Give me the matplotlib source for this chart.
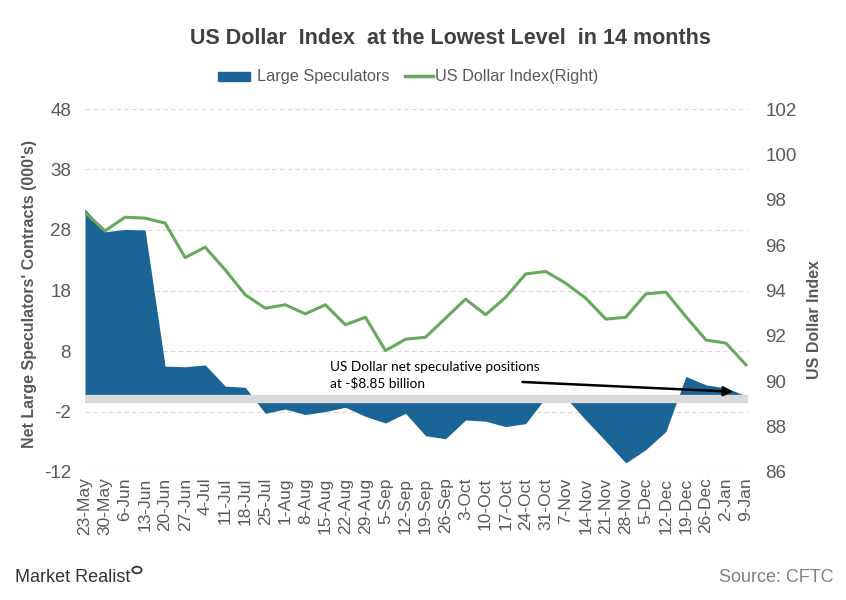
import matplotlib
matplotlib.use("Agg")
import matplotlib.pyplot as plt
from matplotlib.patches import Rectangle, Circle
from matplotlib.lines import Line2D
import numpy as np

dates = ["23-May", "30-May", "6-Jun", "13-Jun", "20-Jun", "27-Jun", "4-Jul", "11-Jul",
         "18-Jul", "25-Jul", "1-Aug", "8-Aug", "15-Aug", "22-Aug", "29-Aug", "5-Sep",
         "12-Sep", "19-Sep", "26-Sep", "3-Oct", "10-Oct", "17-Oct", "24-Oct", "31-Oct",
         "7-Nov", "14-Nov", "21-Nov", "28-Nov", "5-Dec", "12-Dec", "19-Dec", "26-Dec",
         "2-Jan", "9-Jan"]

large_speculators = [31.5, 27.7, 28.1, 28.0, 5.5, 5.4, 5.7, 2.2,
                     2.0, -2.3, -1.6, -2.5, -2.0, -1.3, -2.8, -3.9,
                     -2.3, -6.0, -6.5, -3.4, -3.6, -4.5, -4.0, 0.3,
                     0.3, -3.4, -6.9, -10.5, -8.3, -5.3, 3.8, 2.4,
                     1.9, 0.6]

usd_index = [97.44, 96.63, 97.23, 97.19, 96.97, 95.45, 95.91, 94.91,
             93.81, 93.22, 93.37, 92.97, 93.37, 92.49, 92.82, 91.35,
             91.85, 91.94, 92.78, 93.62, 92.93, 93.70, 94.73, 94.84,
             94.32, 93.66, 92.74, 92.82, 93.85, 93.93, 92.85, 91.82,
             91.68, 90.72]

left_ticks = [-12, -2, 8, 18, 28, 38, 48]
right_ticks = [86, 88, 90, 92, 94, 96, 98, 100, 102]

BLUE = "#1b6496"
GREEN = "#66a85c"
TXT = "#595959"
FONT = "Liberation Sans"

plt.rcParams["font.family"] = [FONT, "DejaVu Sans"]
plt.rcParams["axes.unicode_minus"] = False

fig = plt.figure(figsize=(8.46, 6.0), dpi=100)
fig.patch.set_facecolor("white")
ax = fig.add_axes([85 / 846, 1 - 472 / 600, (748 - 85) / 846, (472 - 109) / 600])
x = np.arange(len(dates))

ax.fill_between(x, 0, large_speculators, color=BLUE, lw=0, zorder=2)
ax.axhline(0, color="#d9d9d9", lw=6, zorder=3)
ax.set_ylim(-12, 48)
ax.set_yticks(left_ticks)
ax.set_xlim(0, 33.1)
ax.set_xticks(x)
ax.set_xticklabels(dates, rotation=90, fontsize=12.5, color=TXT)
ax.tick_params(axis="both", length=0, pad=4)
ax.tick_params(axis="y", labelsize=13.5, labelcolor=TXT, pad=10)
ax.grid(axis="y", color="#d9d9d9", linestyle=(0, (4, 3)), lw=0.8, zorder=0)
for s in ax.spines.values():
    s.set_visible(False)
ax.set_ylabel("Net Large Speculators' Contracts (000's)", fontsize=11.5,
              fontweight="bold", color=TXT)
ax.yaxis.set_label_coords(-0.073, 0.49)

ax2 = ax.twinx()
ax2.plot(x, usd_index, color=GREEN, lw=2.2, zorder=4)
ax2.set_ylim(86, 102)
ax2.set_yticks(right_ticks)
ax2.tick_params(axis="y", length=0, labelsize=13.5, labelcolor=TXT, pad=12.5)
for s in ax2.spines.values():
    s.set_visible(False)
ax2.set_ylabel("US Dollar Index", fontsize=11.5, fontweight="bold", color=TXT)
ax2.yaxis.set_label_coords(1.089, 0.42)

ax.text(12.25, 6.3, "US Dollar net speculative positions\nat -$8.85 billion",
        fontsize=9.8, family=["Lato", "DejaVu Sans"], color="black", va="top",
        ha="left", linespacing=1.35, zorder=6)
ax.annotate("", xy=(32.5, 1.25), xytext=(21.7, 2.9),
            arrowprops=dict(arrowstyle="-|>", color="black", lw=1.8,
                            mutation_scale=14), zorder=6)

fig.text(450 / 846, 1 - 38 / 600, "US Dollar  Index  at the Lowest Level  in 14 months",
         ha="center", va="center", fontsize=15.5, fontweight="bold", color="#404040")

# legend
fig.patches.append(Rectangle((218 / 846, 1 - 81 / 600), 32 / 846, 9 / 600,
                             transform=fig.transFigure, color=BLUE))
fig.text(257 / 846, 1 - 76 / 600, "Large Speculators", fontsize=11.7, color=TXT,
         va="center", ha="left")
fig.lines.append(Line2D([405 / 846, 433 / 846], [1 - 76 / 600, 1 - 76 / 600],
                        transform=fig.transFigure, color=GREEN, lw=2.5))
fig.text(435 / 846, 1 - 76 / 600, "US Dollar Index(Right)", fontsize=11.7, color=TXT,
         va="center", ha="left")

# footer
fig.text(15 / 846, 1 - 578 / 600, "Market Realist", fontsize=13, color="#333333",
         va="center", ha="left", family=["Liberation Sans Narrow", "Liberation Sans"])
fig.patches.append(Circle((137 / 846, 1 - 570 / 600), 0.0055, transform=fig.transFigure,
                          fill=False, ec="#333333", lw=1.3))
fig.text(833 / 846, 1 - 578 / 600, "Source: CFTC", fontsize=13, color="#808080",
         va="center", ha="right")

fig.savefig("out.png", dpi=100, facecolor="white")
